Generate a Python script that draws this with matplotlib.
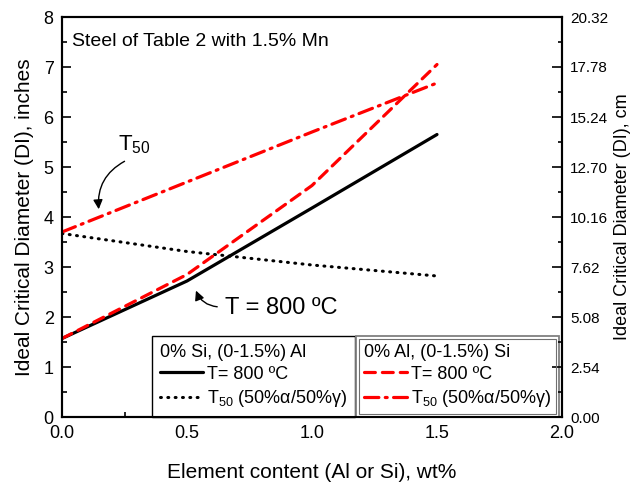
import matplotlib
matplotlib.use('Agg')
import matplotlib.pyplot as plt
from matplotlib.patches import Rectangle
from matplotlib.transforms import IdentityTransform
import numpy as np

plt.rcParams['font.family'] = ['Liberation Sans', 'DejaVu Sans']
plt.rcParams['mathtext.fontset'] = 'custom'
plt.rcParams['mathtext.rm'] = 'Liberation Sans'
plt.rcParams['mathtext.it'] = 'Liberation Sans:italic'

# element content, wt%
x = [0.0, 0.5, 1.0, 1.5]

# 0% Si, (0-1.5%) Al
al_800 = [1.57, 2.72, 4.18, 5.65]
al_t50 = [3.67, 3.31, 3.04, 2.82]
# 0% Al, (0-1.5%) Si
si_800 = [1.57, 2.85, 4.63, 7.05]
si_t50 = [3.70, 4.70, 5.70, 6.68]

fig = plt.figure(figsize=(6.4, 4.9), dpi=100)
ax = fig.add_axes([62 / 640, 73 / 490, 500 / 640, 400 / 490])

l1, = ax.plot(x, al_800, color='black', lw=2.3, solid_capstyle='round')
l2, = ax.plot(x, al_t50, color='black', lw=2.2, linestyle=(0, (0.3, 2.1)),
              dash_capstyle='round')
l3, = ax.plot(x, si_800, color='red', lw=2.3, linestyle=(0, (3.4, 2.2)),
              dash_capstyle='round')
l4, = ax.plot(x, si_t50, color='red', lw=2.3, linestyle=(0, (4.5, 2.0, 0.6, 2.0)),
              dash_capstyle='round')

ax.set_xlim(0, 2.0)
ax.set_ylim(0, 8)
ax.set_xticks(np.arange(0, 2.01, 0.5))
ax.set_xticks(np.arange(0, 2.01, 0.25), minor=True)
ax.set_yticks(np.arange(0, 9, 1))
ax.set_yticks(np.arange(0, 8.01, 0.5), minor=True)
ax.xaxis.set_major_formatter(plt.FormatStrFormatter('%.1f'))
ax.tick_params(which='both', direction='in', top=False, right=False, width=1.2)
ax.tick_params(which='major', length=6.5, labelsize=13, pad=6)
ax.tick_params(which='minor', length=3.5)
for s in ax.spines.values():
    s.set_linewidth(1.5)

ax.set_xlabel('Element content (Al or Si), wt%', fontsize=15, labelpad=15)
ax.set_ylabel('Ideal Critical Diameter (DI), inches', fontsize=15, labelpad=7)

# right axis in cm
ax2 = ax.twinx()
ax2.set_ylim(0, 8 * 2.54)
ax2.set_yticks(2.54 * np.arange(9))
ax2.set_yticks(1.27 * np.arange(17), minor=True)
ax2.yaxis.set_major_formatter(plt.FormatStrFormatter('%.2f'))
ax2.tick_params(which='both', direction='in', width=1.2)
ax2.tick_params(which='major', length=7, labelsize=11, pad=6)
ax2.tick_params(which='minor', length=3)
ax2.set_ylabel('Ideal Critical Diameter (DI), cm', fontsize=13, labelpad=4)
for s in ax2.spines.values():
    s.set_linewidth(1.5)

ax.text(0.04, 7.5, 'Steel of Table 2 with 1.5% Mn', fontsize=14, va='center')

ax.annotate('', xy=(0.148, 4.1), xytext=(0.26, 5.14),
            arrowprops=dict(arrowstyle='-|>', color='black', lw=1,
                            connectionstyle='arc3,rad=0.35', mutation_scale=14))
ax.text(0.224, 5.45, 'T$_{50}$', fontsize=16, va='center', ha='left')

ax.annotate('', xy=(0.532, 2.58), xytext=(0.632, 2.2),
            arrowprops=dict(arrowstyle='-|>', color='black', lw=1,
                            connectionstyle='arc3,rad=-0.35', mutation_scale=14))
ax.text(0.652, 2.18, 'T = 800 ºC', fontsize=17, va='center', ha='left')

t50_label = 'T$_{50}$ (50%α/50%γ)'
leg_kw = dict(fontsize=13, title_fontsize=13, handlelength=2.4, handletextpad=0.2,
              labelspacing=0.28, borderpad=0.45, borderaxespad=0.0,
              fancybox=False, alignment='left')
leg1 = ax.legend([l1, l2], ['T= 800 ºC', t50_label], title='0% Si, (0-1.5%) Al',
                 loc='lower left', bbox_to_anchor=(0.18, 0.0), **leg_kw)
leg1.get_frame().set_edgecolor('black')
leg1.get_frame().set_linewidth(1.0)
leg1.get_frame().set_alpha(1)
ax.add_artist(leg1)

leg2 = ax.legend([l3, l4], ['T= 800 ºC', t50_label], title='0% Al, (0-1.5%) Si',
                 loc='lower right', bbox_to_anchor=(0.994, 0.0), **leg_kw)
leg2.get_frame().set_edgecolor('#808080')
leg2.get_frame().set_linewidth(1.3)
leg2.get_frame().set_alpha(1)

# inner line of the double frame around the Si legend
fig.canvas.draw()
bb = leg2.get_window_extent()
fig.add_artist(Rectangle((bb.x0 + 3, bb.y0 + 3), bb.width - 6, bb.height - 6,
                         transform=IdentityTransform(), fill=False,
                         edgecolor='#707070', lw=0.8, zorder=10))

fig.savefig('out.png', dpi=100)
